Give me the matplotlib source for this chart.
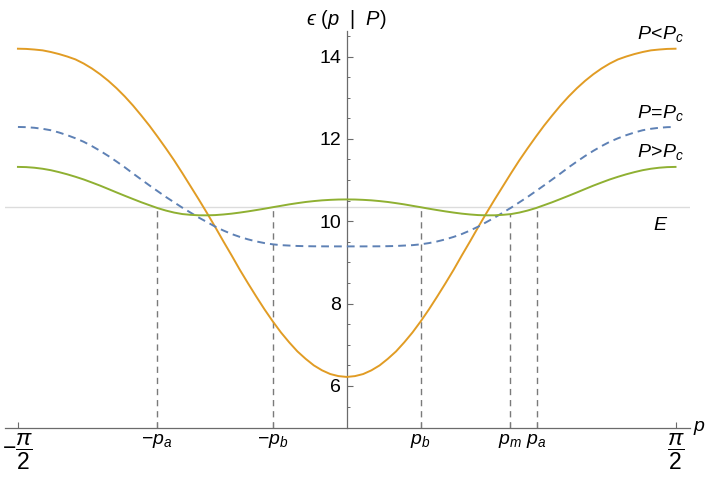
"""
Dispersion curves eps(p | P) for P below, at and above P_c.
706 x 483 px, Mathematica-like look.
"""

import matplotlib
matplotlib.use('Agg')
import matplotlib.pyplot as plt
import numpy as np

plt.rcParams['font.family'] = ['Liberation Sans', 'DejaVu Sans']
plt.rcParams['mathtext.fontset'] = 'custom'
plt.rcParams['mathtext.rm'] = 'Liberation Sans'
plt.rcParams['mathtext.it'] = 'Liberation Sans:italic'
plt.rcParams['mathtext.bf'] = 'Liberation Sans:bold'
plt.rcParams['mathtext.fallback'] = 'stixsans'

# ── Data (p from -pi/2 to pi/2 in steps of pi/80) ───────────────────────────
p = np.linspace(-np.pi / 2, np.pi / 2, 81)

eps_below = [
    14.19, 14.185, 14.17, 14.15, 14.11, 14.06, 14.00, 13.93, 13.83, 13.71,
    13.57, 13.41, 13.23, 13.03, 12.81, 12.57, 12.32, 12.05, 11.77, 11.48,
    11.17, 10.85, 10.53, 10.20, 9.86, 9.51, 9.17, 8.82, 8.49, 8.17,
    7.86, 7.57, 7.30, 7.06, 6.84, 6.66, 6.50, 6.38, 6.29, 6.24,
    6.22,
    6.24, 6.29, 6.38, 6.50, 6.66, 6.84, 7.06, 7.30, 7.57, 7.86,
    8.17, 8.49, 8.82, 9.17, 9.51, 9.86, 10.20, 10.53, 10.85, 11.17,
    11.48, 11.77, 12.05, 12.32, 12.57, 12.81, 13.03, 13.23, 13.41, 13.57,
    13.71, 13.83, 13.93, 14.00, 14.06, 14.11, 14.15, 14.17, 14.185, 14.19]

eps_crit = [
    12.29, 12.285, 12.27, 12.245, 12.21, 12.155, 12.09, 12.015, 11.93, 11.825,
    11.71, 11.585, 11.45, 11.31, 11.16, 11.015, 10.87, 10.73, 10.59, 10.46,
    10.33, 10.21, 10.09, 9.98, 9.87, 9.775, 9.69, 9.62, 9.56, 9.51,
    9.47, 9.44, 9.42, 9.41, 9.40, 9.395, 9.392, 9.391, 9.39, 9.39,
    9.39,
    9.39, 9.39, 9.391, 9.392, 9.395, 9.40, 9.41, 9.42, 9.44, 9.47,
    9.51, 9.56, 9.62, 9.69, 9.775, 9.87, 9.98, 10.09, 10.21, 10.33,
    10.46, 10.59, 10.73, 10.87, 11.015, 11.16, 11.31, 11.45, 11.585, 11.71,
    11.825, 11.93, 12.015, 12.09, 12.155, 12.21, 12.245, 12.27, 12.285, 12.29]

eps_above = [
    11.32, 11.315, 11.30, 11.275, 11.24, 11.193, 11.14, 11.08, 11.015, 10.941,
    10.865, 10.783, 10.70, 10.619, 10.54, 10.462, 10.39, 10.319, 10.26, 10.211,
    10.175, 10.156, 10.145, 10.144, 10.15, 10.165, 10.185, 10.211, 10.24, 10.272,
    10.305, 10.341, 10.375, 10.41, 10.44, 10.468, 10.49, 10.508, 10.52, 10.528,
    10.53,
    10.528, 10.52, 10.508, 10.49, 10.468, 10.44, 10.41, 10.375, 10.341, 10.305,
    10.272, 10.24, 10.211, 10.185, 10.165, 10.15, 10.144, 10.145, 10.156, 10.175,
    10.211, 10.26, 10.319, 10.39, 10.462, 10.54, 10.619, 10.70, 10.783, 10.865,
    10.941, 11.015, 11.08, 11.14, 11.193, 11.24, 11.275, 11.30, 11.315, 11.32]

E_level = 10.34

# marked momenta and where their dashed guides stop
mark_p = [-0.907, -0.353, 0.353, 0.780, 0.907]
mark_top = [10.34, 10.34, 10.34, 10.18, 10.34]
mark_labels = [r'$-p_a$', r'$-p_b$', r'$p_b$', r'$p_m$', r'$p_a$']

# ── Palette ──────────────────────────────────────────────────────────────────
C_BELOW = '#E19C24'
C_CRIT = '#5E81B5'
C_ABOVE = '#8FB032'
C_AXIS = '#6b6b6b'

# ── Figure ───────────────────────────────────────────────────────────────────
fig = plt.figure(figsize=(7.06, 4.83), dpi=100)
ax = fig.add_axes([4.5 / 706, 1 - 428 / 483, (690 - 4.5) / 706, (428 - 31) / 483])

YMIN, YMAX = 4.98, 14.62
ax.set_xlim(-1.635, 1.64)
ax.set_ylim(YMIN, YMAX)

# reference energy line
ax.axhline(E_level, color='#dcdcdc', lw=1.0, zorder=1)

# dashed guides from the axis up to the curve
ax.vlines(mark_p, YMIN, mark_top, colors='#7a7a7a', lw=1.0,
          linestyles=(0, (4.5, 3.5)), zorder=2)

# curves
ax.plot(p, eps_below, color=C_BELOW, lw=1.4, zorder=4, solid_joinstyle='round')
ax.plot(p, eps_crit, color=C_CRIT, lw=1.4, ls=(0, (4, 2.6)), zorder=4)
ax.plot(p, eps_above, color=C_ABOVE, lw=1.4, zorder=4, solid_joinstyle='round')

# ── Axes through the origin ─────────────────────────────────────────────────
for s in ['top', 'right']:
    ax.spines[s].set_visible(False)
ax.spines['left'].set_position(('data', 0))
for s in ['left', 'bottom']:
    ax.spines[s].set_color(C_AXIS)
    ax.spines[s].set_linewidth(0.9)

ax.set_yticks([6, 8, 10, 12, 14])
ax.set_yticks(np.arange(5.5, 14.6, 0.5), minor=True)
ax.tick_params(axis='y', which='both', direction='in', color=C_AXIS,
               labelsize=14, pad=4)
ax.tick_params(axis='y', which='major', length=4, width=0.8)
ax.tick_params(axis='y', which='minor', length=2.5, width=0.7)

xt = [-np.pi / 2] + mark_p + [np.pi / 2]
xl = [r'$-\dfrac{\pi}{2}$'] + mark_labels + [r'$\dfrac{\pi}{2}$']
ax.set_xticks(xt)
ax.set_xticklabels(xl)
ax.tick_params(axis='x', which='major', direction='in', color=C_AXIS,
               length=4, width=0.8, labelsize=14, pad=3)
for lab in (ax.get_xticklabels()[0], ax.get_xticklabels()[-1]):
    lab.set_fontsize(16.5)

# axis names
ax.text(0, 1.0, '$\u03f5\\ (p\\ \\ |\\ \\ P)$', transform=ax.get_xaxis_transform(),
        ha='center', va='bottom', fontsize=14.5)
ax.text(1.005, 0.0, r'$p$', transform=ax.transAxes,
        ha='left', va='center', fontsize=14)

# curve names
ax.text(1.50, 14.55, r'$P\!<\!P_c$', ha='center', va='center', fontsize=14)
ax.text(1.50, 12.63, r'$P\!=\!P_c$', ha='center', va='center', fontsize=14)
ax.text(1.50, 11.68, r'$P\!>\!P_c$', ha='center', va='center', fontsize=14)
ax.text(1.50, 9.90, r'$E$', ha='center', va='center', fontsize=14)

fig.savefig('out.png', dpi=100, facecolor='white')
plt.close(fig)
